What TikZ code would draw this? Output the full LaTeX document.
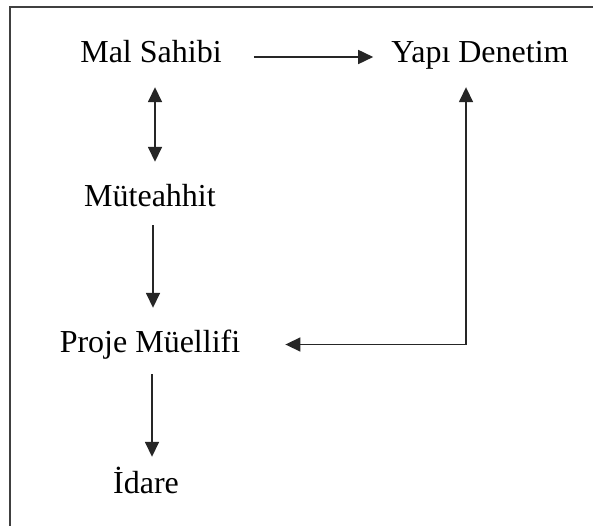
\documentclass[tikz,border=0pt]{standalone}
\usepackage{fontspec}
\setmainfont{Liberation Serif}
\usetikzlibrary{arrows.meta}
\begin{document}
\begin{tikzpicture}[x=1pt,y=-1pt,
  lbl/.style={inner sep=0pt, text height=22pt, text depth=7pt,
    font=\fontsize{32}{38}\selectfont},
  tip/.tip={Triangle[length=15pt,width=14pt]},
  arr/.style={line width=1.6pt, draw=black!85, -tip},
  dbl/.style={line width=1.6pt, draw=black!85, tip-tip},
  frame/.style={line width=2pt, draw=black!75}]
  \useasboundingbox (0,0) rectangle (593,526);
  \clip (0,0) rectangle (593,526);
  \fill[white] (0,0) rectangle (593,526);
  % outer frame (runs past the right and bottom edges)
  \draw[frame] (10,7) rectangle (640,580);

  % labels, placed by baseline
  \node[lbl, anchor=base] (mal)  at (151,63)  {Mal Sahibi};
  \node[lbl, anchor=base] (yapi) at (480,63)  {Yapı Denetim};
  \node[lbl, anchor=base] (mut)  at (150,207) {Müteahhit};
  \node[lbl, anchor=base] (proje) at (150,352) {Proje Müellifi};
  \node[lbl, anchor=base] (idare) at (146,493) {İdare};

  % connectors
  \draw[arr, shorten <=32pt, shorten >=18pt]
    ([yshift=-1.5pt]mal.east) -- ([yshift=-1.5pt]yapi.west);
  \draw[dbl, shorten <=17pt, shorten >=23pt]
    ([xshift=4pt]mal.south) -- ([xshift=5pt]mut.north);
  \draw[arr, shorten <=11pt, shorten >=22pt]
    ([xshift=3pt]mut.south) -- ([xshift=3pt]proje.north);
  \draw[arr, shorten <=15pt, shorten >=14pt]
    ([xshift=2pt]proje.south) -- ([xshift=6pt]idare.north);
  \draw[dbl, shorten <=17pt, shorten >=45pt]
    ([xshift=-14pt]yapi.south) |- (proje.east);
\end{tikzpicture}
\end{document}
